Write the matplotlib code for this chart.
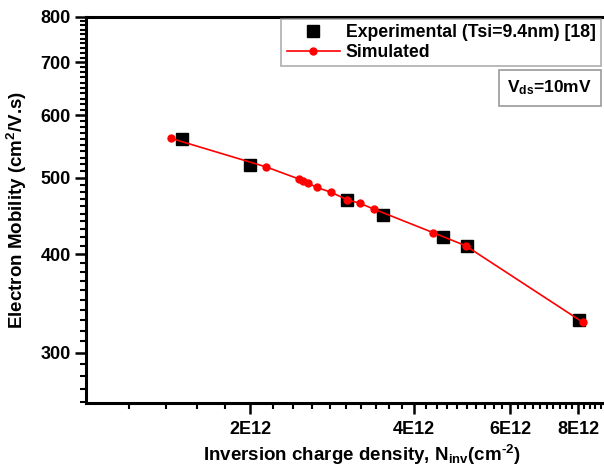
import numpy as np
import matplotlib
matplotlib.use("Agg")
import matplotlib.pyplot as plt
from matplotlib.ticker import FixedLocator, FuncFormatter, NullFormatter

plt.rcParams['font.family'] = ['Liberation Sans', 'DejaVu Sans']
plt.rcParams['font.weight'] = 'bold'
plt.rcParams['mathtext.fontset'] = 'custom'
plt.rcParams['mathtext.rm'] = 'Liberation Sans:bold'
plt.rcParams['mathtext.it'] = 'Liberation Sans:bold'
plt.rcParams['mathtext.bf'] = 'Liberation Sans:bold'

# experimental points (Tsi=9.4nm) [18]
exp_n = [1.50e12, 2.00e12, 3.01e12, 3.50e12, 4.51e12, 5.01e12, 8.02e12]
exp_mu = [560, 519, 469, 449, 420, 410, 330]

# simulated curve
sim_n = [1.43e12, 2.14e12, 2.46e12, 2.50e12, 2.56e12, 2.65e12, 2.82e12,
         3.01e12, 3.18e12, 3.38e12, 4.33e12, 4.97e12, 8.15e12]
sim_mu = [561, 516, 498, 495, 492, 486, 479, 469, 464, 456, 426, 410, 328]

x_major = [2e12, 4e12, 6e12, 8e12]
x_labels = ['2E12', '4E12', '6E12', '8E12']
y_major = [300, 400, 500, 600, 700, 800]

W, H = 604, 467
fig = plt.figure(figsize=(W / 100, H / 100), dpi=100)
# axes in pixel terms, right side runs off the image like the original crop
ax = fig.add_axes([86 / W, 64 / H, (631 - 86) / W, (403 - 16.7) / H])

ax.plot(exp_n, exp_mu, 's', color='black', ms=8, label='Experimental (Tsi=9.4nm) [18]', zorder=3)
ax.plot(sim_n, sim_mu, '-o', color='red', ms=5, lw=1.2, label='Simulated', zorder=4)

ax.set_xscale('log')
ax.set_yscale('log')
ax.set_xlim(1e12, 1e13)
ax.set_ylim(259, 800)

ax.xaxis.set_major_locator(FixedLocator(x_major))
ax.xaxis.set_major_formatter(FuncFormatter(lambda v, p: x_labels[x_major.index(v)] if v in x_major else ''))
x_minor = [v * 1e12 for v in np.arange(1.2, 10.01, 0.2) if not any(abs(v * 1e12 - m) < 1e9 for m in x_major)]
ax.xaxis.set_minor_locator(FixedLocator(x_minor))
ax.xaxis.set_minor_formatter(NullFormatter())

ax.yaxis.set_major_locator(FixedLocator(y_major))
ax.yaxis.set_major_formatter(FuncFormatter(lambda v, p: '%d' % v))
y_minor = [v for v in range(260, 800, 10) if v not in y_major]
ax.yaxis.set_minor_locator(FixedLocator(y_minor))
ax.yaxis.set_minor_formatter(NullFormatter())

ax.tick_params(which='major', direction='out', length=8, width=1.8, labelsize=13, pad=3)
ax.tick_params(which='minor', direction='out', length=4, width=1.5)
ax.tick_params(axis='x', which='major', pad=5)
ax.tick_params(top=False, right=False, which='both')

for s in ['left', 'bottom', 'top']:
    ax.spines[s].set_linewidth(2.2)
ax.spines['right'].set_visible(False)

ax.set_xlabel(r'Inversion charge density, N$_{inv}$(cm$^{\text{-}2}$)', fontsize=13.5, fontweight='bold', labelpad=3)
ax.xaxis.set_label_coords((362 - 86) / (631 - 86), -(455 - 403) / (403 - 16.7))
ax.xaxis.label.set_va('center')
ax.set_ylabel(r'Electron Mobility (cm$^2$/V.s)', fontsize=13.5, fontweight='bold', labelpad=8)

leg = ax.legend(loc='upper right', bbox_to_anchor=(601 / W, 1 - 19 / H), bbox_transform=fig.transFigure,
                fontsize=12.7, frameon=True, fancybox=False, borderpad=0.3, labelspacing=0.15,
                handlelength=3.0, handletextpad=0.35, borderaxespad=0)
leg.get_frame().set_edgecolor('#999999')
leg.get_frame().set_linewidth(1.2)
for t in leg.get_texts():
    t.set_fontweight('bold')

fig.text(592 / W, 1 - 88 / H, r'V$_{ds}$=10mV', fontsize=12.5, fontweight='bold', ha='right', va='center',
         bbox=dict(boxstyle='square,pad=0.5', fc='white', ec='#999999', lw=1.2))

fig.savefig('out.png', dpi=100)
